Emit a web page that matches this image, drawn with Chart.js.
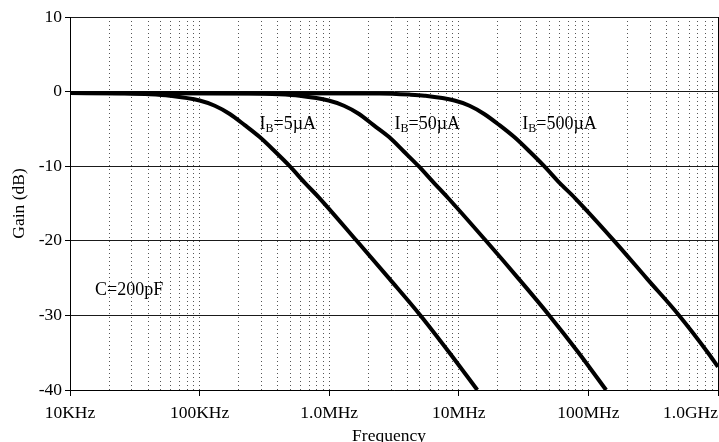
<!DOCTYPE html>
<html lang="en">
<head>
<meta charset="UTF-8">
<title>Gain vs Frequency</title>
<script src="https://cdn.jsdelivr.net/npm/chart.js@4.4.1/dist/chart.umd.min.js"></script>
<style>
  html, body { margin: 0; padding: 0; background: #fff; }
  canvas { display: block; }
</style>
</head>
<body>
<canvas id="ganancia-chart" width="719" height="442"></canvas>
<script>
// ===============================
// Datos de las curvas (frecuencia en Hz, ganancia en dB)
// ===============================
const corrientes = ['5µA', '50µA', '500µA'];

const frec5uA = [1e4, 2.43e4, 4.13e4, 5.89e4, 1.0e5, 1.31e5, 1.71e5, 2.23e5, 2.91e5, 3.8e5, 4.96e5, 6.46e5, 8.44e5, 1.63e6, 2.92e6, 5.06e6, 8.47e6, 1.39e7];
const gan5uA = [-0.2, -0.25, -0.35, -0.55, -1.2, -1.9, -3.0, -4.5, -6.1, -8.0, -10.0, -12.2, -14.3, -20.0, -25.1, -30.0, -35.0, -40.0];

const frec50uA = [1e4, 2.4e5, 4.1e5, 5.9e5, 9.9e5, 1.3e6, 1.7e6, 2.2e6, 2.9e6, 3.75e6, 4.9e6, 6.4e6, 8.3e6, 1.62e7, 2.9e7, 4.99e7, 8.4e7, 1.37e8];
const gan50uA = [-0.2, -0.25, -0.35, -0.55, -1.2, -1.9, -3.0, -4.5, -6.1, -8.0, -10.0, -12.2, -14.3, -20.0, -25.1, -30.0, -35.0, -40.0];

const frec500uA = [1e4, 2.44e6, 4.16e6, 5.43e6, 9.25e6, 1.21e7, 1.57e7, 2.06e7, 2.68e7, 3.5e7, 4.56e7, 5.96e7, 7.91e7, 1.58e8, 2.84e8, 5.01e8, 8.53e8, 1e9];
const gan500uA = [-0.2, -0.25, -0.4, -0.55, -1.2, -1.9, -3.0, -4.5, -6.1, -8.0, -10.0, -12.2, -14.3, -20.0, -25.1, -30.0, -35.2, -36.9];

// Marcas del eje X (décadas) y del eje Y
const xTickValores = [1e4, 1e5, 1e6, 1e7, 1e8, 1e9];
const xTickEtiquetas = ['10KHz', '100KHz', '1.0MHz', '10MHz', '100MHz', '1.0GHz'];
const yTicks = [10, 0, -10, -20, -30, -40];

// Textos dentro del gráfico, ubicados en coordenadas de datos
const anotaciones = [
  { base: 'I', sub: 'B', resto: '=5µA', f: 2.9e5, db: -5.0 },
  { base: 'I', sub: 'B', resto: '=50µA', f: 3.19e6, db: -5.0 },
  { base: 'I', sub: 'B', resto: '=500µA', f: 3.09e7, db: -5.0 },
  { base: 'C=200pF', sub: '', resto: '', f: 1.56e4, db: -27.3 }
];

const FUENTE = "'Liberation Serif', 'Times New Roman', serif";
Chart.defaults.font.family = FUENTE;
Chart.defaults.color = '#000';

function esDecada(v) {
  const l = Math.log10(v);
  return Math.abs(l - Math.round(l)) < 1e-9;
}

function puntos(frecs, gans) {
  return frecs.map((f, i) => ({ x: f, y: gans[i] }));
}

// Etiquetas del eje X, título, borde derecho y anotaciones
const etiquetasPlugin = {
  id: 'etiquetas',
  afterDraw(chart) {
    const { ctx, chartArea, scales: { x, y } } = chart;
    ctx.save();

    // borde derecho del área de trazado
    ctx.strokeStyle = '#000';
    ctx.lineWidth = 1;
    ctx.beginPath();
    ctx.moveTo(chartArea.right + 0.5, chartArea.top);
    ctx.lineTo(chartArea.right + 0.5, chartArea.bottom);
    ctx.stroke();

    // etiquetas de las décadas
    ctx.fillStyle = '#000';
    ctx.font = '17.5px ' + FUENTE;
    ctx.textBaseline = 'alphabetic';
    ctx.textAlign = 'left';
    xTickValores.forEach((v, i) => {
      const texto = xTickEtiquetas[i];
      const px = x.getPixelForValue(v);
      const w = ctx.measureText(texto).width;
      let izq = px - w / 2;
      if (izq + w > chart.width) izq = chart.width - w - 1;
      ctx.fillText(texto, izq, x.top + 27.5);
    });

    // título del eje X
    ctx.textAlign = 'center';
    ctx.fillText('Frequency', (chartArea.left + chartArea.right) / 2 - 5, x.bottom - 1);
    ctx.textAlign = 'left';

    // anotaciones con subíndice
    anotaciones.forEach(a => {
      let px = x.getPixelForValue(a.f);
      const py = y.getPixelForValue(a.db);
      ctx.font = '18px ' + FUENTE;
      ctx.fillText(a.base, px, py);
      px += ctx.measureText(a.base).width;
      if (a.sub) {
        ctx.font = '12px ' + FUENTE;
        ctx.fillText(a.sub, px, py + 3);
        px += ctx.measureText(a.sub).width;
      }
      if (a.resto) {
        ctx.font = '18px ' + FUENTE;
        ctx.fillText(a.resto, px, py);
      }
    });

    ctx.restore();
  }
};

const ctx = document.getElementById('ganancia-chart').getContext('2d');
const series = [
  puntos(frec5uA, gan5uA),
  puntos(frec50uA, gan50uA),
  puntos(frec500uA, gan500uA)
];

new Chart(ctx, {
  type: 'line',
  data: {
    datasets: series.map((datos, i) => ({
      label: 'IB=' + corrientes[i],
      data: datos,
      borderColor: '#000',
      backgroundColor: '#000',
      borderWidth: 4,
      pointRadius: 0,
      fill: false,
      cubicInterpolationMode: 'monotone'
    }))
  },
  options: {
    responsive: false,
    animation: false,
    layout: { padding: { top: 17, right: 1, left: 0, bottom: 0 } },
    plugins: {
      legend: { display: false },
      tooltip: { enabled: false }
    },
    scales: {
      x: {
        type: 'logarithmic',
        min: 1e4,
        max: 1e9,
        afterBuildTicks: function(scale) {
          // líneas de 1 a 9 en cada década
          const ticks = [];
          for (let d = 1e4; d < 1e9; d *= 10) {
            for (let k = 1; k <= 9; k++) ticks.push({ value: k * d });
          }
          ticks.push({ value: 1e9 });
          scale.ticks = ticks;
        },
        afterFit: function(scale) {
          scale.height = 52;
        },
        ticks: { display: false, autoSkip: false },
        grid: {
          color: '#555',
          lineWidth: 1,
          tickLength: 6,
          tickColor: c => (c.tick && esDecada(c.tick.value)) ? '#000' : 'rgba(0,0,0,0)',
          tickBorderDash: []
        },
        border: { color: '#000', width: 1, dash: [1, 3] }
      },
      y: {
        min: -40,
        max: 10,
        afterBuildTicks: function(scale) {
          scale.ticks = yTicks.map(v => ({ value: v }));
        },
        afterFit: function(scale) {
          scale.width = 70;
        },
        ticks: { font: { size: 17.5 }, padding: 3 },
        grid: { color: '#1a1a1a', lineWidth: 1, tickLength: 5, tickColor: '#000' },
        border: { color: '#000', width: 1 },
        title: {
          display: true,
          text: 'Gain (dB)',
          font: { size: 17.5 },
          padding: { top: 9, bottom: 0 }
        }
      }
    }
  },
  plugins: [etiquetasPlugin]
});
</script>
</body>
</html>
